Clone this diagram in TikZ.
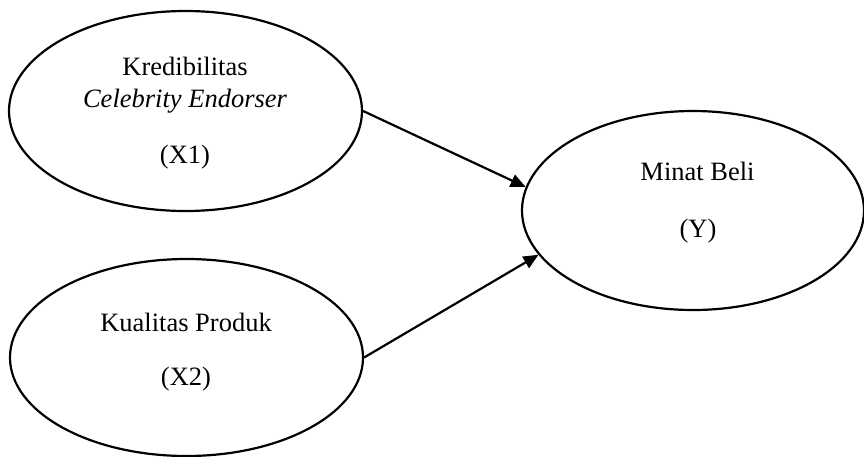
\documentclass[tikz,border=0pt]{standalone}
\usepackage{fontspec}
\setmainfont{Liberation Serif}
\usetikzlibrary{shapes.geometric,arrows.meta}
\begin{document}
\begin{tikzpicture}[x=1pt,y=-1pt,
  varnode/.style={draw=black,line width=2.2pt,ellipse,inner sep=0pt},
  lbl/.style={anchor=base,inner sep=0pt,font=\fontsize{26.5}{32}\selectfont},
  arr/.style={line width=2.2pt,-{Triangle[length=15pt,width=13pt]}}]
\useasboundingbox (0,0) rectangle (864,456);
\node[varnode,minimum width=353pt,minimum height=200pt] (x1) at (185.5,111) {};
\node[varnode,minimum width=353pt,minimum height=197pt] (x2) at (186.5,357.5) {};
\node[varnode,minimum width=342pt,minimum height=199pt] (y) at (693,210.5) {};
\node[lbl] (t1a) at (185,75) {Kredibilitas};
\node[lbl] (t1b) at (185,107) {\itshape Celebrity Endorser};
\node[lbl] (t1c) at (185,163) {(X1)};
\node[lbl] (t2a) at (186,331) {Kualitas Produk};
\node[lbl] (t2b) at (186,385) {(X2)};
\node[lbl] (t3a) at (697.5,180) {Minat Beli};
\node[lbl] (t3b) at (698,237) {(Y)};
\draw[arr] (x1.east) -- (y.172);
\draw[arr] (x2.east) -- (y.196);
\end{tikzpicture}
\end{document}
